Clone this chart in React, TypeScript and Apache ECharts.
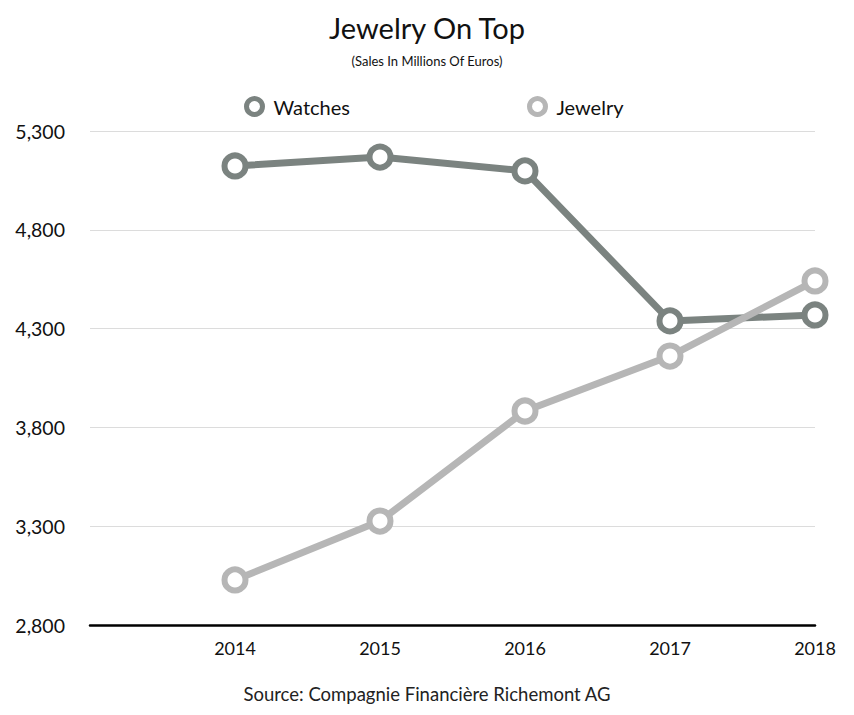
import React, { useEffect, useRef } from "react";
import * as echarts from "echarts";

const categories = ["", "2014", "2015", "2016", "2017", "2018"];
const watches: (number | string)[] = ["-", 5123, 5168, 5098, 4339, 4369];
const jewelry: (number | string)[] = ["-", 3028, 3326, 3883, 4161, 4541];
const title = "Jewelry On Top";
const subtitle = "(Sales In Millions Of Euros)";
const source = "Source: Compagnie Financière Richemont AG";

const FONT = "Lato, 'Noto Sans', sans-serif";
const WATCH_COLOR = "#7b8380";
const JEWEL_COLOR = "#b6b6b6";

export default function App() {
  const ref = useRef<HTMLDivElement>(null);
  useEffect(() => {
    if (!ref.current) return;
    const chart = echarts.init(ref.current, undefined, { renderer: "svg" });
    const legendCommon = {
      icon: "circle",
      itemWidth: 16,
      itemHeight: 16,
      itemGap: 10,
      textStyle: { fontFamily: FONT, fontSize: 20, color: "#111", padding: [0, 0, 0, 6] },
      selectedMode: false,
    };
    chart.setOption({
      animation: false,
      backgroundColor: "#fff",
      title: [
        {
          text: title,
          left: "center",
          top: 8,
          textStyle: { fontFamily: FONT, fontSize: 29, fontWeight: "normal", color: "#111" },
        },
        {
          text: subtitle,
          left: "center",
          top: 49,
          textStyle: { fontFamily: FONT, fontSize: 13, fontWeight: "normal", color: "#111" },
        },
        {
          text: source,
          left: "center",
          top: 679,
          textStyle: { fontFamily: FONT, fontSize: 18.5, fontWeight: "normal", color: "#222" },
        },
      ],
      legend: [
        { ...legendCommon, top: 91, left: 239, data: [{ name: "Watches", itemStyle: { color: "#fff", borderColor: WATCH_COLOR, borderWidth: 5 } }] },
        { ...legendCommon, top: 91, left: 522, data: [{ name: "Jewelry", itemStyle: { color: "#fff", borderColor: JEWEL_COLOR, borderWidth: 5 } }] },
      ],
      grid: { left: 90, right: 39, top: 131, bottom: 90, containLabel: false },
      xAxis: {
        type: "category",
        data: categories,
        boundaryGap: false,
        axisLine: { lineStyle: { color: "#000", width: 2.5 } },
        axisTick: { show: false },
        axisLabel: { fontFamily: FONT, fontSize: 18, color: "#111", margin: 14 },
        splitLine: { show: false },
      },
      yAxis: {
        type: "value",
        min: 2800,
        max: 5300,
        interval: 500,
        axisLine: { show: false },
        axisTick: { show: false },
        axisLabel: {
          fontFamily: FONT,
          fontSize: 19.5,
          color: "#111",
          margin: 25,
          formatter: (v: number) => v.toLocaleString("en-US"),
        },
        splitLine: { lineStyle: { color: "#dcdcdc", width: 1 } },
      },
      series: [
        {
          name: "Watches",
          type: "line",
          data: watches,
          symbol: "circle",
          symbolSize: 21,
          lineStyle: { color: WATCH_COLOR, width: 7 },
          itemStyle: { color: "#fff", borderColor: WATCH_COLOR, borderWidth: 6 },
          z: 3,
        },
        {
          name: "Jewelry",
          type: "line",
          data: jewelry,
          symbol: "circle",
          symbolSize: 21,
          lineStyle: { color: JEWEL_COLOR, width: 7 },
          itemStyle: { color: "#fff", borderColor: JEWEL_COLOR, borderWidth: 6 },
          z: 4,
        },
      ],
    });
    return () => chart.dispose();
  }, []);
  return <div ref={ref} style={{ width: 854, height: 715, position: "absolute", left: 0, top: 0 }} />;
}
